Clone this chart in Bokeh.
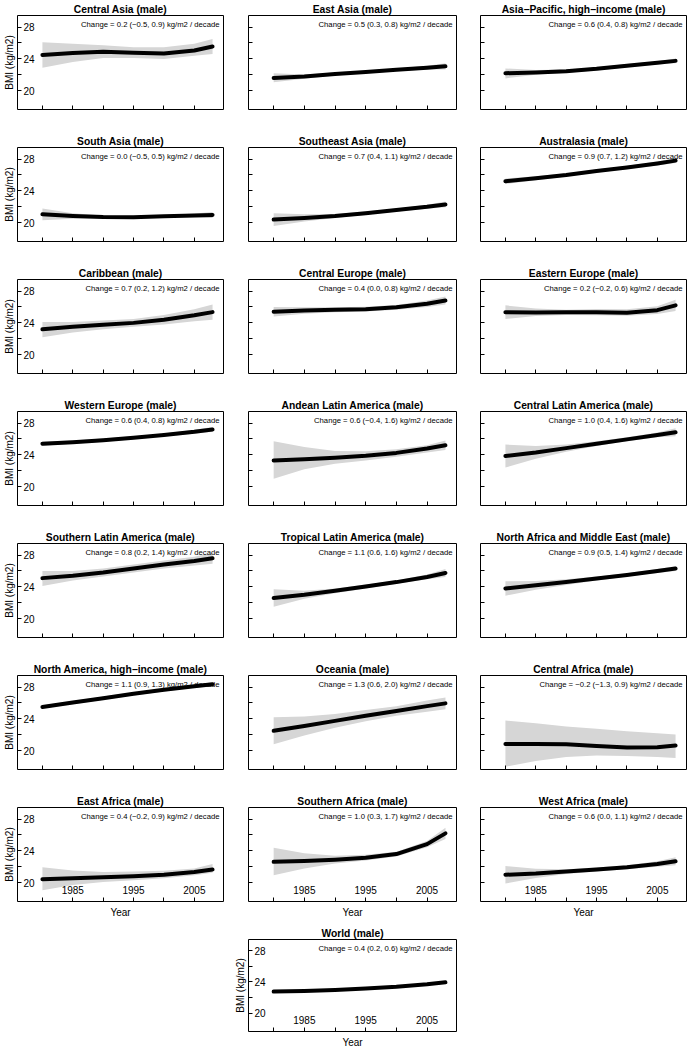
from bokeh.plotting import figure
from bokeh.layouts import column, row, Spacer
from bokeh.models import FixedTicker, Label, Range1d
from bokeh.embed import file_html
from bokeh.resources import INLINE

# ---------------- data ----------------
YEARS = [1980, 1985, 1990, 1995, 2000, 2005, 2008]

REGIONS = [
    "Central Asia", "East Asia", "Asia\u2212Pacific, high\u2212income",
    "South Asia", "Southeast Asia", "Australasia",
    "Caribbean", "Central Europe", "Eastern Europe",
    "Western Europe", "Andean Latin America", "Central Latin America",
    "Southern Latin America", "Tropical Latin America", "North Africa and Middle East",
    "North America, high\u2212income", "Oceania", "Central Africa",
    "East Africa", "Southern Africa", "West Africa",
    "World",
]

CHANGE = [0.2, 0.5, 0.6, 0.0, 0.7, 0.9, 0.7, 0.4, 0.2, 0.6, 0.6, 1.0,
          0.8, 1.1, 0.9, 1.1, 1.3, -0.2, 0.4, 1.0, 0.6, 0.4]
CHANGE_LO = [-0.5, 0.3, 0.4, -0.5, 0.4, 0.7, 0.2, 0.0, -0.2, 0.4, -0.4, 0.4,
             0.2, 0.6, 0.5, 0.9, 0.6, -1.3, -0.2, 0.3, 0.0, 0.2]
CHANGE_HI = [0.9, 0.8, 0.8, 0.5, 1.1, 1.2, 1.2, 0.8, 0.6, 0.8, 1.6, 1.6,
             1.4, 1.6, 1.4, 1.3, 2.0, 0.9, 0.9, 1.7, 1.1, 0.6]

BMI_MEAN = [
    [24.50, 24.75, 24.90, 24.77, 24.68, 25.05, 25.55],
    [21.60, 21.78, 22.10, 22.36, 22.64, 22.90, 23.06],
    [22.20, 22.30, 22.45, 22.75, 23.15, 23.50, 23.75],
    [21.05, 20.85, 20.72, 20.68, 20.80, 20.92, 20.98],
    [20.40, 20.60, 20.85, 21.20, 21.60, 22.00, 22.30],
    [25.20, 25.60, 26.00, 26.50, 26.95, 27.45, 27.80],
    [23.20, 23.50, 23.75, 24.00, 24.40, 24.95, 25.35],
    [25.40, 25.55, 25.65, 25.72, 25.95, 26.40, 26.80],
    [25.35, 25.30, 25.32, 25.35, 25.28, 25.60, 26.20],
    [25.40, 25.60, 25.85, 26.15, 26.50, 26.90, 27.20],
    [23.30, 23.45, 23.65, 23.90, 24.25, 24.80, 25.20],
    [23.85, 24.30, 24.85, 25.40, 25.95, 26.50, 26.85],
    [25.10, 25.40, 25.80, 26.30, 26.80, 27.25, 27.60],
    [22.60, 23.00, 23.50, 24.05, 24.60, 25.25, 25.75],
    [23.80, 24.20, 24.60, 25.05, 25.50, 26.00, 26.30],
    [25.50, 26.05, 26.60, 27.15, 27.65, 28.10, 28.35],
    [22.50, 23.10, 23.75, 24.40, 25.00, 25.60, 25.95],
    [20.85, 20.85, 20.82, 20.60, 20.40, 20.45, 20.65],
    [20.43, 20.55, 20.68, 20.82, 21.00, 21.35, 21.67],
    [22.62, 22.72, 22.90, 23.15, 23.60, 24.85, 26.20],
    [21.00, 21.15, 21.40, 21.65, 21.95, 22.35, 22.70],
    [22.76, 22.85, 22.98, 23.15, 23.38, 23.70, 23.95],
]

BMI_LOW = [
    [22.90, 23.60, 24.10, 24.10, 24.00, 24.40, 24.60],
    [21.05, 21.50, 21.90, 22.20, 22.45, 22.65, 22.65],
    [21.55, 22.00, 22.25, 22.55, 22.95, 23.30, 23.45],
    [20.30, 20.50, 20.55, 20.55, 20.65, 20.70, 20.60],
    [19.60, 20.15, 20.60, 21.00, 21.40, 21.75, 21.95],
    [24.85, 25.35, 25.80, 26.30, 26.75, 27.20, 27.50],
    [22.20, 22.80, 23.20, 23.50, 23.80, 24.20, 24.40],
    [24.80, 25.15, 25.35, 25.42, 25.65, 26.00, 26.30],
    [24.50, 24.85, 25.00, 24.95, 24.88, 25.10, 25.50],
    [25.15, 25.40, 25.65, 25.95, 26.30, 26.65, 26.90],
    [21.00, 22.20, 22.90, 23.30, 23.75, 24.30, 24.60],
    [22.40, 23.50, 24.40, 25.10, 25.70, 26.20, 26.35],
    [24.10, 24.80, 25.30, 25.80, 26.30, 26.70, 26.90],
    [21.50, 22.50, 23.20, 23.80, 24.40, 24.95, 25.25],
    [22.90, 23.65, 24.25, 24.80, 25.30, 25.75, 26.00],
    [25.30, 25.85, 26.40, 26.95, 27.45, 27.90, 28.10],
    [20.80, 21.90, 22.90, 23.70, 24.40, 24.90, 25.20],
    [18.00, 18.70, 19.20, 19.40, 19.35, 19.20, 19.10],
    [19.06, 19.70, 20.10, 20.30, 20.55, 20.95, 21.25],
    [20.95, 21.80, 22.40, 22.80, 23.30, 24.45, 25.50],
    [19.90, 20.60, 21.10, 21.40, 21.70, 22.00, 22.20],
    [22.60, 22.72, 22.86, 23.02, 23.25, 23.56, 23.78],
]

BMI_HIGH = [
    [26.10, 25.90, 25.70, 25.45, 25.45, 25.90, 26.50],
    [22.20, 22.05, 22.30, 22.55, 22.80, 23.15, 23.45],
    [22.80, 22.60, 22.65, 22.95, 23.35, 23.70, 24.05],
    [21.80, 21.20, 20.90, 20.82, 20.95, 21.15, 21.35],
    [21.20, 21.05, 21.10, 21.40, 21.80, 22.25, 22.65],
    [25.55, 25.85, 26.20, 26.70, 27.15, 27.70, 28.10],
    [24.10, 24.10, 24.30, 24.50, 25.00, 25.70, 26.30],
    [26.00, 25.95, 25.95, 26.02, 26.25, 26.80, 27.30],
    [26.20, 25.80, 25.65, 25.75, 25.70, 26.10, 26.90],
    [25.65, 25.80, 26.05, 26.35, 26.70, 27.15, 27.50],
    [25.70, 25.00, 24.50, 24.45, 24.70, 25.20, 25.80],
    [25.30, 25.10, 25.30, 25.70, 26.20, 26.80, 27.35],
    [26.00, 26.00, 26.30, 26.80, 27.30, 27.80, 28.30],
    [23.70, 23.50, 23.80, 24.30, 24.80, 25.55, 26.25],
    [24.70, 24.75, 24.95, 25.30, 25.70, 26.25, 26.60],
    [25.70, 26.25, 26.80, 27.35, 27.85, 28.30, 28.60],
    [24.20, 24.30, 24.60, 25.10, 25.60, 26.30, 26.70],
    [23.80, 23.45, 23.05, 22.75, 22.45, 22.20, 22.05],
    [21.95, 21.55, 21.35, 21.40, 21.50, 21.80, 22.35],
    [24.40, 23.70, 23.40, 23.50, 23.90, 25.25, 26.90],
    [22.10, 21.75, 21.70, 21.90, 22.20, 22.70, 23.20],
    [22.92, 22.98, 23.10, 23.28, 23.51, 23.84, 24.12],
]

X_MINOR = [1980, 1990, 2000]
X_MAJOR = [1985, 1995, 2005]
Y_MINOR = [22, 26]
Y_MAJOR = [20, 24, 28]
X_LABEL = "Year"
Y_LABEL = "BMI (kg/m2)"

# ---------------- layout constants ----------------
FONT = "Liberation Sans"
COL_W = [229, 230, 229]
LEFT_B = [17, 19, 21]
FRAME_W = [206, 208, 206]
ROW_H = 132
LAST_H = 126
FRAME_H = 95
TOP_B = 14
X_RANGE = (1975.9, 2009.8)
Y_RANGE = (17.64, 29.45)
BAND = "#d6d6d6"


def fmt(v):
    return f"{v:.1f}".replace("-", "\u2212")


def panel(i, col, ylab, xlab, height, frame_h):
    w = COL_W[col]
    p = figure(width=w, height=height,
               x_range=Range1d(*X_RANGE), y_range=Range1d(*Y_RANGE),
               output_backend="svg", toolbar_location=None,
               min_border_left=LEFT_B[col],
               min_border_right=w - LEFT_B[col] - FRAME_W[col],
               min_border_top=TOP_B,
               min_border_bottom=height - TOP_B - frame_h)
    p.background_fill_color = "white"
    p.border_fill_color = "white"
    p.outline_line_color = "black"
    p.outline_line_width = 1
    p.xgrid.visible = False
    p.ygrid.visible = False

    p.title.text = REGIONS[i] + " (male)"
    p.title.align = "center"
    p.title.text_font = FONT
    p.title.text_font_size = "10.3px"
    p.title.text_font_style = "bold"
    p.title.text_color = "black"
    p.title.standoff = 2

    p.varea(x=YEARS, y1=BMI_LOW[i], y2=BMI_HIGH[i], fill_color=BAND)
    p.line(x=YEARS, y=BMI_MEAN[i], line_width=4, line_color="black",
           line_cap="round", line_join="round")

    txt = (f"Change = {fmt(CHANGE[i])} ({fmt(CHANGE_LO[i])}, {fmt(CHANGE_HI[i])})"
           f" kg/m2 / decade")
    p.add_layout(Label(x=X_RANGE[1], y=Y_RANGE[1], x_offset=-4, y_offset=-9,
                       text=txt, text_align="right", text_baseline="middle",
                       text_font=FONT, text_font_size="7.7px", text_color="black"))

    for ax in (p.xaxis[0], p.yaxis[0]):
        ax.axis_line_color = None
        ax.major_tick_in = 4
        ax.major_tick_out = 0
        ax.minor_tick_in = 4
        ax.minor_tick_out = 0
        ax.major_tick_line_color = "black"
        ax.minor_tick_line_color = "black"
        ax.major_label_text_font = FONT
        ax.major_label_text_font_size = "10px"
        ax.major_label_text_color = "black"
        ax.axis_label_text_font = FONT
        ax.axis_label_text_font_size = "10px"
        ax.axis_label_text_font_style = "normal"
        ax.axis_label_text_color = "black"

    xa = p.xaxis[0]
    if xlab:
        xa.ticker = FixedTicker(ticks=X_MAJOR, minor_ticks=X_MINOR)
        xa.major_label_standoff = -16
        xa.axis_label = X_LABEL
        xa.axis_label_standoff = 10
    else:
        xa.ticker = FixedTicker(ticks=[], minor_ticks=sorted(X_MAJOR + X_MINOR))

    ya = p.yaxis[0]
    if ylab:
        ya.ticker = FixedTicker(ticks=Y_MAJOR, minor_ticks=Y_MINOR)
        ya.major_label_standoff = -17
        ya.axis_label = Y_LABEL
        ya.axis_label_standoff = 5
    else:
        ya.ticker = FixedTicker(ticks=[], minor_ticks=sorted(Y_MAJOR + Y_MINOR))
    return p


rows = []
for r in range(7):
    figs = []
    for c in range(3):
        i = r * 3 + c
        figs.append(panel(i, c, ylab=(c == 0), xlab=(r == 6),
                          height=ROW_H, frame_h=FRAME_H))
    rows.append(row(*figs))

world = panel(21, 1, ylab=True, xlab=True, height=LAST_H, frame_h=FRAME_H - 1)
rows.append(row(Spacer(width=COL_W[0], height=LAST_H), world,
                Spacer(width=COL_W[2], height=LAST_H)))

layout = column(*rows)

with open("out.html", "w") as f:
    f.write(file_html(layout, INLINE, "BMI trends (male)"))
